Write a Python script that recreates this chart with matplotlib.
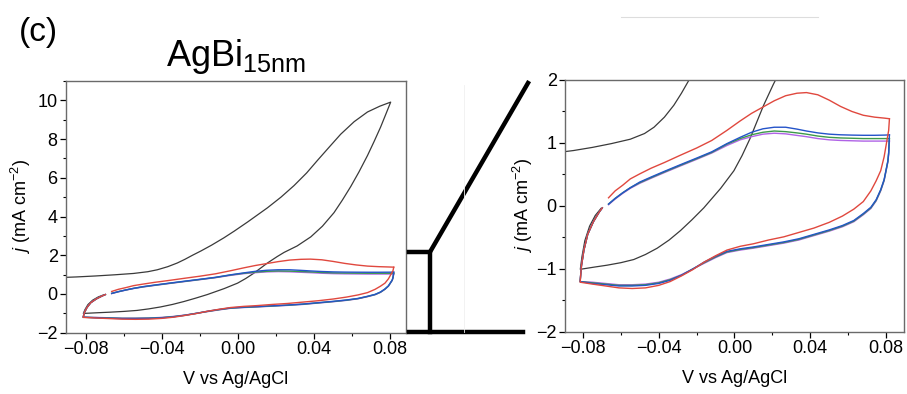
import numpy as np
import matplotlib
matplotlib.use('agg')
import matplotlib.pyplot as plt
import matplotlib.ticker as mticker
from matplotlib.lines import Line2D

plt.rcParams['font.family'] = ['Liberation Sans', 'DejaVu Sans']
plt.rcParams['mathtext.fontset'] = 'custom'
plt.rcParams['mathtext.rm'] = 'Liberation Sans'
plt.rcParams['mathtext.it'] = 'Liberation Sans:italic'

# ---------------- data ----------------
# first cycle (black): anodic branch, cathodic branch, then back up
v_black = [-0.093, -0.085, -0.075, -0.065, -0.055, -0.0475, -0.0425, -0.037, -0.032, -0.028,
           -0.024, -0.0196, -0.014, -0.0075, -0.002, 0.005, 0.0154, 0.0225, 0.0294, 0.036,
           0.0417, 0.048, 0.0539, 0.061, 0.068, 0.0745, 0.0802,
           0.0775, 0.0749, 0.0715, 0.068, 0.0635, 0.0592, 0.0548, 0.0504, 0.0443, 0.0382,
           0.031, 0.0242, 0.0205, 0.0154, 0.0082, 0.004, -0.0003, -0.0073, -0.0162, -0.0225,
           -0.0285, -0.0345, -0.0408, -0.047, -0.0532, -0.06, -0.0673, -0.074, -0.0814,
           -0.0805, -0.079, -0.0765, -0.0735, -0.0705]
j_black = [0.85, 0.88, 0.93, 0.99, 1.06, 1.15, 1.25, 1.41, 1.60, 1.79,
           2.00, 2.22, 2.52, 2.90, 3.25, 3.72, 4.45, 5.00, 5.60, 6.25,
           6.90, 7.60, 8.25, 8.90, 9.40, 9.70, 9.91,
           9.25, 8.62, 7.88, 7.15, 6.30, 5.55, 4.85, 4.20, 3.50, 2.95,
           2.48, 2.15, 1.93, 1.60, 1.07, 0.80, 0.56, 0.28, -0.03, -0.22,
           -0.39, -0.54, -0.67, -0.77, -0.85, -0.90, -0.94, -0.97, -1.005,
           -0.80, -0.55, -0.32, -0.15, -0.04]

# later cycles: anodic sweep (fwd), then cathodic sweep + return (rev)
v_fwd = [-0.0665, -0.063, -0.059, -0.055, -0.050, -0.044, -0.037, -0.029, -0.020, -0.012,
         -0.004, 0.003, 0.009, 0.015, 0.021, 0.027, 0.033, 0.038, 0.044, 0.050,
         0.056, 0.062, 0.068, 0.074, 0.079, 0.0818]
v_rev = [0.0818, 0.0814, 0.081, 0.0802, 0.079, 0.0772, 0.0748, 0.072, 0.068, 0.063,
         0.057, 0.050, 0.042, 0.034, 0.026, 0.018, 0.010, 0.003, -0.004, -0.010,
         -0.016, -0.022, -0.028, -0.034, -0.040, -0.047, -0.054, -0.061, -0.068, -0.075,
         -0.0815, -0.0808, -0.0795, -0.0775, -0.0745, -0.0715, -0.0698]

j_red_fwd = [0.13, 0.24, 0.33, 0.43, 0.51, 0.60, 0.69, 0.80, 0.92, 1.04,
             1.20, 1.35, 1.47, 1.57, 1.67, 1.75, 1.79, 1.80, 1.765, 1.68,
             1.58, 1.50, 1.44, 1.41, 1.395, 1.385]
j_red_rev = [1.38, 1.20, 1.13, 0.99, 0.78, 0.56, 0.40, 0.24, 0.07, -0.05,
             -0.16, -0.26, -0.35, -0.42, -0.49, -0.54, -0.60, -0.64, -0.70, -0.79,
             -0.89, -1.01, -1.11, -1.20, -1.26, -1.30, -1.31, -1.30, -1.27, -1.24,
             -1.21, -0.95, -0.70, -0.45, -0.25, -0.10, -0.03]

j_blue_fwd = [0.03, 0.12, 0.21, 0.29, 0.38, 0.46, 0.55, 0.65, 0.76, 0.86,
              0.99, 1.09, 1.17, 1.225, 1.25, 1.25, 1.22, 1.19, 1.16, 1.14,
              1.13, 1.125, 1.122, 1.122, 1.125, 1.128]
j_blue_rev = [1.13, 0.85, 0.72, 0.60, 0.42, 0.26, 0.10, -0.02, -0.12, -0.23,
              -0.31, -0.38, -0.45, -0.52, -0.57, -0.61, -0.65, -0.68, -0.72, -0.80,
              -0.89, -1.00, -1.10, -1.18, -1.23, -1.26, -1.27, -1.27, -1.25, -1.23,
              -1.20, -0.95, -0.70, -0.45, -0.25, -0.10, -0.03]

j_green_fwd = [0.03, 0.12, 0.21, 0.29, 0.37, 0.45, 0.54, 0.64, 0.75, 0.85,
               0.98, 1.07, 1.13, 1.17, 1.19, 1.18, 1.16, 1.14, 1.11, 1.09,
               1.08, 1.075, 1.07, 1.07, 1.07, 1.07]
j_green_rev = [1.07, 0.84, 0.71, 0.59, 0.41, 0.25, 0.09, -0.03, -0.13, -0.24,
               -0.32, -0.39, -0.46, -0.53, -0.58, -0.62, -0.66, -0.69, -0.73, -0.81,
               -0.90, -1.00, -1.10, -1.17, -1.22, -1.25, -1.26, -1.26, -1.24, -1.22,
               -1.20, -0.95, -0.70, -0.45, -0.25, -0.10, -0.03]

j_purple_fwd = [0.02, 0.11, 0.20, 0.28, 0.36, 0.44, 0.53, 0.63, 0.74, 0.84,
                0.96, 1.05, 1.10, 1.14, 1.155, 1.145, 1.12, 1.10, 1.07, 1.05,
                1.04, 1.035, 1.03, 1.03, 1.03, 1.03]
j_purple_rev = [1.03, 0.82, 0.70, 0.58, 0.40, 0.24, 0.08, -0.04, -0.14, -0.25,
                -0.33, -0.40, -0.47, -0.54, -0.59, -0.63, -0.67, -0.70, -0.74, -0.82,
                -0.91, -1.00, -1.09, -1.16, -1.21, -1.24, -1.25, -1.25, -1.23, -1.21,
                -1.20, -0.95, -0.70, -0.45, -0.25, -0.10, -0.03]

cycles = [
    (j_purple_fwd, j_purple_rev, '#b063e6'),
    (j_green_fwd, j_green_rev, '#3d9a4a'),
    (j_blue_fwd, j_blue_rev, '#2453c9'),
    (j_red_fwd, j_red_rev, '#e0483e'),
]

xlabel = 'V vs Ag/AgCl'
ylabel = r'$\mathit{j}$ (mA cm$^{-2}$)'
xticks = [-0.08, -0.04, 0.00, 0.04, 0.08]

# ---------------- figure ----------------
fig = plt.figure(figsize=(9.07, 3.94), dpi=100)
ax1 = fig.add_axes([0.0728, 0.1556, 0.3743, 0.6388])
ax2 = fig.add_axes([0.6229, 0.1574, 0.3738, 0.6396])

fmt = mticker.FuncFormatter(lambda v, p: ('%.2f' % v).replace('-', '\u2212') if abs(v) > 1e-9 else '0.00')
yfmt = mticker.FuncFormatter(lambda v, p: ('%d' % round(v)).replace('-', '\u2212'))


def draw_cv(ax):
    ax.plot(v_black, j_black, color='#3a3a3a', lw=0.9)
    for jf, jr, c in cycles:
        ax.plot(v_fwd, jf, color=c, lw=1.0)
        ax.plot(v_rev, jr, color=c, lw=1.0)
    ax.set_xticks(xticks)
    ax.xaxis.set_major_formatter(fmt)
    ax.yaxis.set_major_formatter(yfmt)
    ax.xaxis.set_minor_locator(mticker.MultipleLocator(0.02))
    ax.tick_params(which='major', direction='out', length=4.5, width=0.9, labelsize=13, pad=1.5,
                   top=False, right=False)
    ax.tick_params(which='minor', direction='out', length=2.5, width=0.8, top=False, right=False)
    for s in ax.spines.values():
        s.set_color('#6a6a6a')
        s.set_linewidth(1.0)
    ax.set_xlabel(xlabel, fontsize=13, labelpad=9)


draw_cv(ax1)
ax1.set_xlim(-0.0905, 0.088)
ax1.set_ylim(-2, 11)
ax1.set_yticks([-2, 0, 2, 4, 6, 8, 10])
ax1.yaxis.set_minor_locator(mticker.MultipleLocator(1))
ax1.set_ylabel(ylabel, fontsize=13, labelpad=3)

draw_cv(ax2)
ax2.set_xlim(-0.0895, 0.0895)
ax2.set_ylim(-2, 2)
ax2.set_yticks([-2, -1, 0, 1, 2])
ax2.yaxis.set_minor_locator(mticker.MultipleLocator(0.5))
ax2.set_ylabel(ylabel, fontsize=13, labelpad=1)

# panel label and title
fig.text(38 / 907, 1 - 33 / 394, '(c)', fontsize=24, ha='center', va='center')
fig.text(236 / 907, 1 - 56 / 394, r'$\mathregular{AgBi_{15nm}}$', fontsize=26, ha='center', va='center')

# zoom bracket connecting the two panels
W, H = 907.0, 394.0
def fline(xs, ys, **kw):
    fig.add_artist(Line2D([x / W for x in xs], [1 - y / H for y in ys], transform=fig.transFigure, **kw))

fline([409, 430, 430], [252, 252, 332], color='black', lw=3.2, solid_joinstyle='miter')
fline([409, 523], [332, 332], color='black', lw=3.2)
fline([430, 528], [252, 83], color='black', lw=3.2)
fline([621, 818], [17, 17], color='#dddddd', lw=0.8)
fline([464, 464], [85, 332], color='#f0f0f0', lw=0.6)

fig.savefig('out.png', dpi=100)
